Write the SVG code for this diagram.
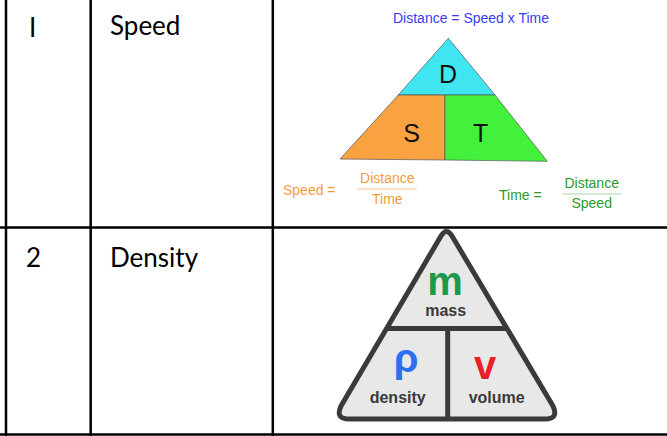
<svg xmlns="http://www.w3.org/2000/svg" width="667" height="436" viewBox="0 0 667 436">
<style>
.grid{stroke:#000;stroke-width:2.5;fill:none}
.cell{font-family:Lato,"Open Sans",sans-serif;font-size:26px;fill:#000}
.ar{font-family:"Liberation Sans",Arial,sans-serif}
.dst{font-size:14px}
.big{font-size:25px;fill:#111}
.tri2{fill:#e8e8e8;stroke:#3a3a3a;stroke-width:5;stroke-linejoin:round}
.lbl{font-family:"Liberation Sans",Arial,sans-serif;font-weight:bold;font-size:16px;fill:#3a3a3a}
.sym{font-family:"Liberation Sans",Arial,sans-serif;font-weight:bold;font-size:40px}
</style>
<rect width="667" height="436" fill="#fff"/>
<g id="table">
<line class="grid" x1="6" y1="0" x2="6" y2="436"/>
<line class="grid" x1="90.7" y1="0" x2="90.7" y2="436"/>
<line class="grid" x1="272.8" y1="0" x2="272.8" y2="436"/>
<line class="grid" x1="0" y1="227.5" x2="667" y2="227.5"/>
<line class="grid" x1="0" y1="434.5" x2="667" y2="434.5"/>
</g>
<g id="row1-num"><text class="cell" x="29" y="37">I</text></g>
<g id="row1-name"><text class="cell" x="110" y="35">Speed</text></g>
<g id="row2-num"><text class="cell" x="26" y="267">2</text></g>
<g id="row2-name"><text class="cell" x="110" y="267">Density</text></g>
<g id="speed-triangle">
<text class="ar dst" x="471" y="23" text-anchor="middle" fill="#3b3bf5">Distance = Speed x Time</text>
<polygon points="448.3,38.3 398.3,95 495,95" fill="#3fe6f2" stroke="#555" stroke-width="0.7"/>
<polygon points="398.3,95 445,95 445,160 340,159" fill="#f9a242" stroke="#555" stroke-width="0.7"/>
<polygon points="445,95 495,95 547.3,161.3 445,160" fill="#43f03c" stroke="#555" stroke-width="0.7"/>
<text class="ar big" x="448" y="83" text-anchor="middle">D</text>
<text class="ar big" x="411.7" y="141.7" text-anchor="middle">S</text>
<text class="ar big" x="480.7" y="142" text-anchor="middle">T</text>
<g fill="#f79a3e">
<text class="ar dst" x="283" y="195">Speed =</text>
<text class="ar dst" x="387.3" y="183" text-anchor="middle">Distance</text>
<line x1="358" y1="189" x2="416.7" y2="189" stroke="#f9c090" stroke-width="1"/>
<text class="ar dst" x="387.3" y="204" text-anchor="middle">Time</text>
</g>
<g fill="#2a9a2a">
<text class="ar dst" x="499" y="200">Time =</text>
<text class="ar dst" x="591.7" y="188.3" text-anchor="middle">Distance</text>
<line x1="562.3" y1="194" x2="621.7" y2="194" stroke="#a8d0a8" stroke-width="1"/>
<text class="ar dst" x="591.7" y="208.3" text-anchor="middle">Speed</text>
</g>
</g>
<g id="density-triangle">
<path class="tri2" d="M441,236 Q446.5,227 452,236 L553,406 Q559,419 545,419 L349,419 Q335,419 341,406 Z"/>
<line x1="386" y1="328.5" x2="508" y2="328.5" stroke="#3a3a3a" stroke-width="5"/>
<line x1="447.7" y1="328.5" x2="447.7" y2="419" stroke="#3a3a3a" stroke-width="5"/>
<text class="sym" x="445" y="295" text-anchor="middle" fill="#1c9a4c">m</text>
<text class="lbl" x="445.7" y="315.7" text-anchor="middle">mass</text>
<text class="sym" x="406" y="372" text-anchor="middle" fill="#2d6ff2">ρ</text>
<text class="lbl" x="397.7" y="403.3" text-anchor="middle">density</text>
<text class="sym" x="485" y="379.3" text-anchor="middle" fill="#e8202a">v</text>
<text class="lbl" x="496.7" y="403.3" text-anchor="middle">volume</text>
</g>
</svg>
